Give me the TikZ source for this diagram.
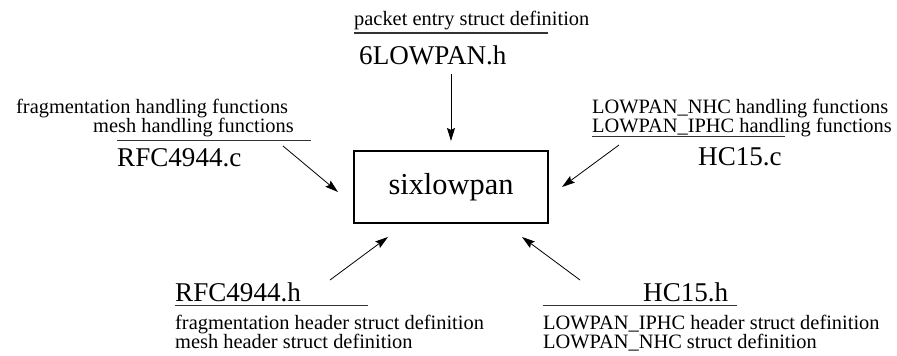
\documentclass[tikz,border=0pt]{standalone}
\usepackage{fontspec}
\setmainfont{Liberation Serif}
\usetikzlibrary{arrows.meta}
\begin{document}
\begin{tikzpicture}[x=1pt,y=-1pt,
  desc/.style={anchor=base west,inner sep=0pt,text height=12pt,text depth=4pt,
    font=\fontsize{20.4}{22}\selectfont},
  fname/.style={anchor=base west,inner sep=0pt,font=\fontsize{27.1}{30}\selectfont},
  rule/.style={line width=1.3pt,draw=black!80},
  link/.style={line width=0.8pt,-{Stealth[length=13pt,width=8pt,inset=2pt]}},
  core/.style={draw,line width=1.1pt,minimum width=194pt,minimum height=72pt,inner sep=0pt,font=\fontsize{30.4}{34}\selectfont}]
\useasboundingbox (0,0) rectangle (897,356);

% central module
\node[core] (six) at (451,187) {sixlowpan};

% 6LOWPAN.h (top)
\node[desc] (hdrD) at (354,25) {packet entry struct definition};
\coordinate (hdrL) at (354,33); \coordinate (hdrR) at (548,33);
\draw[rule] (hdrL) -- (hdrR);
\node[fname] (hdr) at (359,64) {6LOWPAN.h};
\coordinate (hdrS) at (451,74); \coordinate (hdrT) at (451,141);
\draw[link] (hdrS) -- (hdrT);

% RFC4944.c (upper left)
\node[desc] (rcD1) at (16,113) {fragmentation handling functions};
\node[desc] (rcD2) at (93,132) {mesh handling functions};
\coordinate (rcL) at (117,140.5); \coordinate (rcR) at (311,140.5);
\draw[rule] (rcL) -- (rcR);
\node[fname] (rc) at (117,166) {RFC4944.c};
\coordinate (rcS) at (283,146); \coordinate (rcT) at (338,192);
\draw[link] (rcS) -- (rcT);

% HC15.c (upper right)
\node[desc] (hcD1) at (592,113) {LOWPAN\_NHC handling functions};
\node[desc] (hcD2) at (592,132) {LOWPAN\_IPHC handling functions};
\coordinate (hcL) at (592,136.5); \coordinate (hcR) at (785,136.5);
\draw[rule] (hcL) -- (hcR);
\node[fname] (hc) at (698,165) {HC15.c};
\coordinate (hcS) at (619,145); \coordinate (hcT) at (562,187);
\draw[link] (hcS) -- (hcT);

% RFC4944.h (lower left)
\node[fname] (rh) at (175,301) {RFC4944.h};
\coordinate (rhL) at (175,305.5); \coordinate (rhR) at (368,305.5);
\draw[rule] (rhL) -- (rhR);
\node[desc] (rhD1) at (175,329.5) {fragmentation header struct definition};
\node[desc] (rhD2) at (175,348.5) {mesh header struct definition};
\coordinate (rhS) at (330,280); \coordinate (rhT) at (388,237);
\draw[link] (rhS) -- (rhT);

% HC15.h (lower right)
\node[fname] (hh) at (643,301) {HC15.h};
\coordinate (hhL) at (543,305.5); \coordinate (hhR) at (737,305.5);
\draw[rule] (hhL) -- (hhR);
\node[desc] (hhD1) at (543,329.5) {LOWPAN\_IPHC header struct definition};
\node[desc] (hhD2) at (543,348.5) {LOWPAN\_NHC struct definition};
\coordinate (hhS) at (580,280); \coordinate (hhT) at (522,237);
\draw[link] (hhS) -- (hhT);
\end{tikzpicture}
\end{document}
